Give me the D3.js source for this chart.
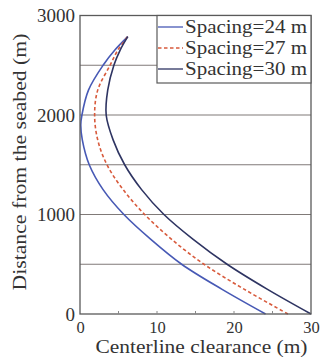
<!DOCTYPE html>
<html><head><meta charset="utf-8">
<script src="https://cdn.jsdelivr.net/npm/d3@7"></script>
<style>body{margin:0;background:#fff}svg{display:block}</style>
</head><body>
<script>
const depths24 = [0, 250, 500, 750, 1000, 1250, 1500, 1750, 1900, 2000, 2250, 2500, 2650, 2787];
const clear24  = [24.1, 18.4, 13.2, 9.2, 5.7, 3.0, 1.2, 0.3, 0.1, 0.25, 1.1, 3.0, 4.5, 6.2];
const depths27 = [0, 250, 500, 750, 1000, 1250, 1500, 1750, 2000, 2250, 2500, 2650, 2787];
const clear27  = [27.0, 21.3, 16.1, 11.9, 8.4, 5.6, 3.5, 2.3, 1.9, 2.3, 3.9, 4.9, 6.2];
const depths30 = [0, 250, 500, 750, 1000, 1250, 1500, 1750, 2000, 2250, 2500, 2650, 2787];
const clear30  = [30.0, 24.3, 19.1, 14.7, 10.9, 8.0, 5.8, 4.3, 3.4, 3.6, 4.4, 5.2, 6.2];
const seriesNames = ["Spacing=24 m", "Spacing=27 m", "Spacing=30 m"];
const xTicks = [0, 10, 20, 30];
const xMinor = [5, 10, 15, 20, 25];
const yTicks = [0, 1000, 2000, 3000];
const yGrid = [500, 1000, 1500, 2000, 2500];

const FONT = "'Liberation Serif'";
const W = 321, H = 358;
const svg = d3.select("body").append("svg").attr("width", W).attr("height", H);
const x = d3.scaleLinear().domain([0, 30]).range([80, 311]);
const y = d3.scaleLinear().domain([0, 3000]).range([314, 15.5]);

const series = [
  {name: seriesNames[0], d: depths24.map((v,i)=>[clear24[i], v]), color: "#4759b5", dash: null},
  {name: seriesNames[1], d: depths27.map((v,i)=>[clear27[i], v]), color: "#d85a3c", dash: "3.5,2.5"},
  {name: seriesNames[2], d: depths30.map((v,i)=>[clear30[i], v]), color: "#2e3462", dash: null}
];

// gridlines
svg.append("g").selectAll("line").data(yGrid).join("line")
  .attr("x1", x(0)).attr("x2", x(30)).attr("y1", d=>y(d)).attr("y2", d=>y(d))
  .attr("stroke", "#807a78").attr("stroke-width", 1.2);

// curves
const line = d3.line().x(d=>x(d[0])).y(d=>y(d[1])).curve(d3.curveCatmullRom.alpha(0.5));
svg.append("g").selectAll("path").data(series).join("path")
  .attr("d", s=>line(s.d)).attr("fill", "none")
  .attr("stroke", s=>s.color).attr("stroke-width", 1.6)
  .attr("stroke-dasharray", s=>s.dash);

// frame
svg.append("rect").attr("x", x(0)).attr("y", y(3000)).attr("width", x(30)-x(0)).attr("height", y(0)-y(3000))
  .attr("fill", "none").attr("stroke", "#5a5a5a").attr("stroke-width", 1.3);

// x axis
const xAxis = d3.axisBottom(x).tickValues(xTicks).tickSize(0).tickPadding(7).tickFormat(d3.format("d"));
const gx = svg.append("g").attr("transform", `translate(0,${y(0)})`).call(xAxis);
gx.select(".domain").remove();
gx.selectAll("text").attr("font-size", 16.5).attr("fill", "#333").style("font-family", FONT);
svg.append("g").selectAll("line").data(xMinor).join("line")
  .attr("x1", d=>x(d)).attr("x2", d=>x(d)).attr("y1", y(0)).attr("y2", y(0)-3)
  .attr("stroke", "#888").attr("stroke-width", 1);

// y axis
const yAxis = d3.axisLeft(y).tickValues(yTicks).tickSize(0).tickPadding(5).tickFormat(d3.format("d"));
const gy = svg.append("g").attr("transform", `translate(${x(0)},0)`).call(yAxis);
gy.select(".domain").remove();
gy.selectAll("text").attr("font-size", 19).attr("fill", "#333").style("font-family", FONT);

// axis titles
svg.append("text").attr("x", (x(0)+x(30))/2 + 6).attr("y", 353).attr("text-anchor", "middle")
  .style("font-family", FONT).attr("fill", "#333")
  .attr("font-size", 18).attr("textLength", 212).attr("lengthAdjust", "spacingAndGlyphs")
  .text("Centerline clearance (m)");
svg.append("text").attr("transform", "translate(26,162) rotate(-90)").attr("text-anchor", "middle")
  .style("font-family", FONT).attr("fill", "#333")
  .attr("font-size", 19).attr("textLength", 257).attr("lengthAdjust", "spacingAndGlyphs")
  .text("Distance from the seabed (m)");

// legend
const lg = svg.append("g");
lg.append("rect").attr("x", 157).attr("y", y(3000)).attr("width", x(30)-157).attr("height", 83-y(3000))
  .attr("fill", "#fff").attr("stroke", "#5a5a5a").attr("stroke-width", 1.2);
series.forEach((s, i) => {
  const yy = 27 + i*21;
  lg.append("line").attr("x1", 158).attr("x2", 183).attr("y1", yy).attr("y2", yy)
    .attr("stroke", s.color).attr("stroke-width", 1.3).attr("stroke-dasharray", s.dash);
  lg.append("text").attr("x", 185).attr("y", yy + 6).attr("font-size", 18)
    .style("font-family", FONT).attr("fill", "#333")
    .attr("textLength", 122).attr("lengthAdjust", "spacingAndGlyphs").text(s.name);
});
</script>
</body></html>
